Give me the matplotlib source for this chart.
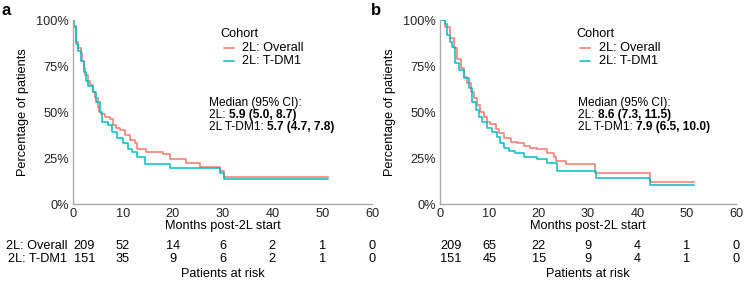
import matplotlib.pyplot as plt

plt.rcParams['font.family'] = ['Liberation Sans', 'DejaVu Sans']

RED = '#F8766D'
TEAL = '#00BFC4'

# Panel a: KM step points (months, survival fraction)
a_overall_t = [0, 0.2, 0.6, 1.0, 1.5, 1.8, 2.2, 2.5, 3.0, 3.5, 4.0, 4.5, 5.0, 5.3, 5.7, 6.5,
               7.4, 8.0, 8.6, 9.4, 10.4, 11.4, 12.4, 12.8, 14.7, 18.0, 19.5, 22.6, 25.4,
               29.4, 30.3, 51.2]
a_overall_s = [1.0, 0.96, 0.88, 0.85, 0.82, 0.78, 0.74, 0.70, 0.67, 0.645, 0.61, 0.575, 0.53,
               0.50, 0.49, 0.475, 0.46, 0.43, 0.415, 0.40, 0.375, 0.35, 0.33, 0.30, 0.285,
               0.27, 0.245, 0.224, 0.203, 0.179, 0.145, 0.145]
a_tdm1_t = [0, 0.2, 0.6, 1.0, 1.5, 2.2, 2.6, 3.1, 4.0, 4.7, 5.4, 5.9, 7.1, 7.8, 8.8, 10.1,
            11.1, 11.8, 12.8, 14.5, 19.5, 29.4, 30.3, 51.2]
a_tdm1_s = [1.0, 0.97, 0.87, 0.83, 0.78, 0.72, 0.67, 0.64, 0.61, 0.556, 0.50, 0.447, 0.43,
            0.393, 0.357, 0.33, 0.30, 0.284, 0.257, 0.217, 0.194, 0.167, 0.1375, 0.1375]

# Panel b
b_overall_t = [0, 1.1, 2.1, 2.8, 3.5, 4.2, 4.9, 5.5, 6.2, 6.9, 7.5, 8.2, 8.9, 9.6, 10.2,
               11.3, 11.9, 12.9, 14.3, 15.6, 17.0, 18.3, 19.7, 21.7, 23.1, 23.5, 25.6,
               31.5, 42.6, 51.4]
b_overall_s = [1.0, 0.96, 0.90, 0.846, 0.79, 0.737, 0.69, 0.656, 0.61, 0.574, 0.538, 0.50,
               0.475, 0.447, 0.433, 0.41, 0.384, 0.357, 0.34, 0.33, 0.315, 0.306, 0.297,
               0.279, 0.257, 0.235, 0.216, 0.167, 0.121, 0.121]
b_tdm1_t = [0, 1.0, 1.5, 2.1, 2.5, 3.0, 3.8, 4.9, 5.9, 6.5, 7.2, 7.9, 8.5, 9.6, 10.6, 11.6,
            12.1, 12.9, 13.9, 15.3, 17.0, 19.7, 21.7, 23.7, 31.7, 42.6, 51.4]
b_tdm1_s = [1.0, 0.98, 0.92, 0.88, 0.855, 0.765, 0.728, 0.683, 0.629, 0.556, 0.51, 0.475,
            0.447, 0.415, 0.393, 0.366, 0.33, 0.306, 0.288, 0.275, 0.257, 0.243, 0.221,
            0.181, 0.140, 0.103, 0.103]

risk_times = [0, 10, 20, 30, 40, 50, 60]
a_risk_overall = [209, 52, 14, 6, 2, 1, 0]
a_risk_tdm1 = [151, 35, 9, 6, 2, 1, 0]
b_risk_overall = [209, 65, 22, 9, 4, 1, 0]
b_risk_tdm1 = [151, 45, 15, 9, 4, 1, 0]

cohort_labels = ['2L: Overall', '2L: T-DM1']
a_medians = [('2L: ', '5.9 (5.0, 8.7)'), ('2L T-DM1: ', '5.7 (4.7, 7.8)')]
b_medians = [('2L: ', '8.6 (7.3, 11.5)'), ('2L T-DM1: ', '7.9 (6.5, 10.0)')]

FS = 9.2
MFS = 8.6
ROWS_Y = [-0.228, -0.299]

fig = plt.figure(figsize=(7.46, 2.83), dpi=100)
ax_a = fig.add_axes([0.0979, 0.279, 0.4008, 0.650])
ax_b = fig.add_axes([0.5898, 0.279, 0.3968, 0.650])


def draw_panel(ax, curves, risks, medians, leg_x, med_x, row_labels):
    for (t, s), col in zip(curves, [RED, TEAL]):
        ax.step(t, s, where='post', color=col, lw=1.1)
    ax.set_xlim(0, 60)
    ax.set_ylim(0, 1)
    ax.set_xticks(risk_times)
    ax.set_yticks([0, 0.25, 0.5, 0.75, 1.0])
    ax.set_yticklabels(['0%', '25%', '50%', '75%', '100%'])
    ax.tick_params(length=0, labelsize=FS, pad=3, colors='#222222')
    for side in ['top', 'right']:
        ax.spines[side].set_visible(False)
    for side in ['left', 'bottom']:
        ax.spines[side].set_color('#aaaaaa')
        ax.spines[side].set_linewidth(1.0)
    ax.set_ylabel('Percentage of patients', fontsize=FS, labelpad=5)
    ax.text(0.5, -0.12, 'Months post-2L start', transform=ax.transAxes,
            ha='center', va='center', fontsize=FS)

    # legend
    lx, tx = leg_x
    ax.text(lx, 0.924, 'Cohort', transform=ax.transAxes, ha='left', va='center', fontsize=FS)
    for y, col, lab in zip([0.846, 0.777], [RED, TEAL], cohort_labels):
        ax.plot([lx + 0.012, lx + 0.045], [y, y], transform=ax.transAxes, color=col, lw=1.1)
        ax.text(tx, y, lab, transform=ax.transAxes, ha='left', va='center', fontsize=FS)

    # medians
    ax.text(med_x, 0.547, 'Median (95% CI):', transform=ax.transAxes,
            ha='left', va='center', fontsize=MFS)
    for y, (norm, bold) in zip([0.484, 0.42], medians):
        t1 = ax.text(med_x, y, norm, transform=ax.transAxes, ha='left', va='center',
                     fontsize=MFS)
        ax.annotate(bold, xy=(1, 0.5), xycoords=t1, ha='left', va='center',
                    fontsize=MFS, fontweight='bold')

    # risk table
    trans = ax.get_xaxis_transform()
    for y, row in zip(ROWS_Y, risks):
        for t, n in zip(risk_times, row):
            ax.text(t + (0.1 if t == 0 else 0), y, str(n), transform=trans,
                    ha='left' if t == 0 else 'center', va='center', fontsize=FS,
                    clip_on=False)
    if row_labels:
        for y, lab in zip(ROWS_Y, cohort_labels):
            ax.text(-0.02, y, lab, transform=ax.transAxes, ha='right', va='center',
                    fontsize=FS)
    ax.text(0.5, -0.38, 'Patients at risk', transform=ax.transAxes,
            ha='center', va='center', fontsize=FS)


draw_panel(ax_a, [(a_overall_t, a_overall_s), (a_tdm1_t, a_tdm1_s)],
           [a_risk_overall, a_risk_tdm1], a_medians, (0.492, 0.564), 0.455, True)
draw_panel(ax_b, [(b_overall_t, b_overall_s), (b_tdm1_t, b_tdm1_s)],
           [b_risk_overall, b_risk_tdm1], b_medians, (0.4605, 0.536), 0.466, False)

fig.text(0.002, 0.99, 'a', ha='left', va='top', fontsize=12, fontweight='bold')
fig.text(0.497, 0.99, 'b', ha='left', va='top', fontsize=12, fontweight='bold')

fig.savefig('out.png', dpi=100)
